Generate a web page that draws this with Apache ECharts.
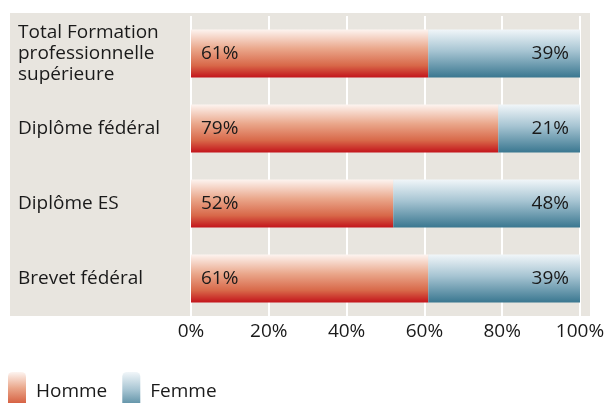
<!DOCTYPE html>
<html>
<head>
<meta charset="utf-8">
<script src="https://cdn.jsdelivr.net/npm/echarts@6/dist/echarts.min.js"></script>
<style>
  html, body { margin: 0; padding: 0; background: #fff; }
  #chart { width: 611px; height: 403px; }
</style>
</head>
<body>
<div id="chart"></div>
<script>
var categories = ['Total Formation\nprofessionnelle\nsupérieure', 'Diplôme fédéral', 'Diplôme ES', 'Brevet fédéral'];
var homme = [61, 79, 52, 61];
var femme = [39, 21, 48, 39];
var xTicks = [0, 20, 40, 60, 80, 100];

var chart = echarts.init(document.getElementById('chart'));

var redGrad = new echarts.graphic.LinearGradient(0, 0, 0, 1, [
    { offset: 0, color: '#fdf4f0' },
    { offset: 0.4, color: '#eaa78b' },
    { offset: 0.75, color: '#d86849' },
    { offset: 1, color: '#c3141b' }
]);
var blueGrad = new echarts.graphic.LinearGradient(0, 0, 0, 1, [
    { offset: 0, color: '#f1f6f9' },
    { offset: 0.45, color: '#a6c4d2' },
    { offset: 1, color: '#3a7790' }
]);

var font = '"Open Sans", sans-serif';

var option = {
    animation: false,
    textStyle: { fontFamily: font },
    graphic: [{
        type: 'rect',
        z: -10,
        silent: true,
        shape: { x: 10, y: 13, width: 580, height: 303 },
        style: { fill: '#e8e5df' }
    }],
    legend: {
        left: 8,
        top: 372,
        padding: 0,
        itemWidth: 18,
        itemHeight: 40,
        itemGap: 15,
        data: ['Homme', 'Femme'],
        textStyle: { fontSize: 19, color: '#1a1a1a', fontFamily: font, padding: [0, 0, 0, 5] }
    },
    grid: { left: 191, right: 31, top: 16, bottom: 87 },
    xAxis: {
        type: 'value',
        min: 0,
        max: 100,
        interval: 20,
        axisLine: { show: false },
        axisTick: { show: false },
        splitLine: { show: true, lineStyle: { color: '#ffffff', width: 2 } },
        axisLabel: {
            margin: 6,
            fontSize: 19,
            color: '#1a1a1a',
            formatter: function (v) { return xTicks.indexOf(v) >= 0 ? v + '%' : ''; }
        }
    },
    yAxis: {
        type: 'category',
        inverse: true,
        data: categories,
        axisLine: { show: false },
        axisTick: { show: false },
        axisLabel: {
            align: 'left',
            margin: 173,
            fontSize: 19,
            lineHeight: 21,
            color: '#1a1a1a'
        }
    },
    series: [{
        name: 'Homme',
        type: 'bar',
        stack: 'total',
        barWidth: 48,
        data: homme,
        itemStyle: { color: redGrad },
        label: {
            show: true,
            position: 'insideLeft',
            distance: 10,
            fontSize: 19,
            color: '#1a1a1a',
            formatter: '{c}%'
        }
    }, {
        name: 'Femme',
        type: 'bar',
        stack: 'total',
        barWidth: 48,
        data: femme,
        itemStyle: { color: blueGrad },
        label: {
            show: true,
            position: 'insideRight',
            distance: 11,
            fontSize: 19,
            color: '#1a1a1a',
            formatter: '{c}%'
        }
    }]
};

chart.setOption(option);
</script>
</body>
</html>
